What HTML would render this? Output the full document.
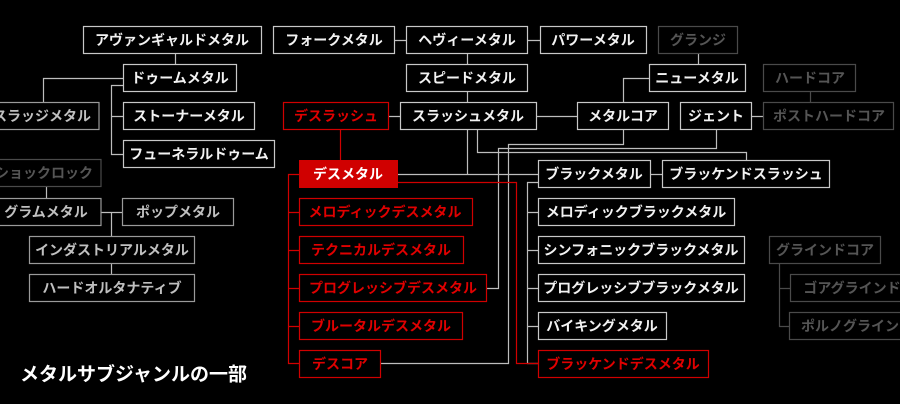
<!DOCTYPE html>
<html><head><meta charset="utf-8"><style>
html,body{margin:0;padding:0;background:#000;}
svg{display:block;}
text{font-family:"Liberation Sans","Noto Sans CJK JP",sans-serif;font-weight:bold;font-size:14px;text-anchor:middle;dominant-baseline:central;}
.w rect{fill:#000;stroke:#c8c8c8;stroke-width:1.2}
.w text{fill:#f2f2f2}
.l rect{fill:#000;stroke:#9a9a9a;stroke-width:1.2}
.l text{fill:#c0c0c0}
.g rect{fill:#000;stroke:#4a4a4a;stroke-width:1.2}
.g text{fill:#555}
.r rect{fill:#000;stroke:#d00000;stroke-width:1.2}
.r text{fill:#e00000}
.f rect{fill:#d00000;stroke:#d00000}
.f text{fill:#fff}
</style></head><body>
<svg width="900" height="404" viewBox="0 0 900 404" xmlns="http://www.w3.org/2000/svg">
<g fill="none" stroke-width="1.2">
<g stroke="#bdbdbd">
<path d="M175.5 53V64M123 78.5H43.5V102M123 85.5H111.5V154.5H123M111.5 116.5H123"/>
<path d="M395 40.5H406M528 40.5H540M467.5 53V64M467.5 91V102M389 116.5H400M537 116.5H577"/>
<path d="M467.5 129V174.5M398 174.5H538M477.5 129V152.5H746.5V160M623.5 129V144.5H508.5V363.5H380M716.5 129V148.5H498.5V288.5H487"/>
<path d="M538 182.5H527.5V363.5H538M527.5 212.5H538M527.5 250.5H538M527.5 288.5H538M527.5 326.5H538M651 174.5H662"/>
<path d="M698.5 53V64M649 78.5H623.5V102M752 116.5H763"/>
<path d="M101 212.5H122M111.5 212.5V236M111.5 263V274M46.5 186V198"/>
</g>
<g stroke="#4a4a4a"><path d="M810.5 91V102M779.5 263V326.5H790M779.5 288.5H790"/></g>
<g stroke="#d00000"><path d="M340.5 129V160M398 182.5H516.5V363.5H538M299 174.5H288.5V363.5H299M288.5 212.5H299M288.5 250.5H299M288.5 288.5H299M288.5 326.5H299"/></g>
</g>
<g class="w">
<rect x="83.5" y="26.5" width="178" height="27"/><text x="172" y="40">アヴァンギャルドメタル</text>
<rect x="273.5" y="26.5" width="121" height="27"/><text x="334" y="40">フォークメタル</text>
<rect x="406.5" y="26.5" width="121" height="27"/><text x="467" y="40">ヘヴィーメタル</text>
<rect x="540.5" y="26.5" width="106" height="27"/><text x="593" y="40">パワーメタル</text>
<rect x="123.5" y="64.5" width="113" height="27"/><text x="180" y="78">ドゥームメタル</text>
<rect x="406.5" y="64.5" width="121" height="27"/><text x="467" y="78">スピードメタル</text>
<rect x="649.5" y="64.5" width="96" height="27"/><text x="697" y="78">ニューメタル</text>
<rect x="123.5" y="102.5" width="131" height="27"/><text x="189" y="116">ストーナーメタル</text>
<rect x="400.5" y="102.5" width="136" height="27"/><text x="468" y="116">スラッシュメタル</text>
<rect x="577.5" y="102.5" width="91" height="27"/><text x="623" y="116">メタルコア</text>
<rect x="680.5" y="102.5" width="71" height="27"/><text x="716" y="116">ジェント</text>
<rect x="123.5" y="140.5" width="151" height="27"/><text x="199" y="154">フューネラルドゥーム</text>
<rect x="538.5" y="160.5" width="112" height="27"/><text x="594" y="174">ブラックメタル</text>
<rect x="662.5" y="160.5" width="167" height="27"/><text x="746" y="174">ブラッケンドスラッシュ</text>
<rect x="538.5" y="198.5" width="196" height="27"/><text x="636" y="212">メロディックブラックメタル</text>
<rect x="538.5" y="236.5" width="206" height="27"/><text x="641" y="250">シンフォニックブラックメタル</text>
<rect x="538.5" y="274.5" width="206" height="27"/><text x="641" y="288">プログレッシブブラックメタル</text>
<rect x="538.5" y="312.5" width="128" height="27"/><text x="602" y="326">バイキングメタル</text>
</g>
<g class="l">
<rect x="-10" y="102.5" width="109" height="27"/><text x="42" y="116">スラッジメタル</text>
<rect x="-10" y="198.5" width="111" height="27"/><text x="46" y="212">グラムメタル</text>
<rect x="122.5" y="198.5" width="111" height="27"/><text x="178" y="212">ポップメタル</text>
<rect x="29.5" y="236.5" width="165" height="27"/><text x="112" y="250">インダストリアルメタル</text>
<rect x="29.5" y="274.5" width="165" height="27"/><text x="112" y="288">ハードオルタナティブ</text>
</g>
<g class="g">
<rect x="658.5" y="26.5" width="79" height="27"/><text x="698" y="40">グランジ</text>
<rect x="763.5" y="64.5" width="92" height="27"/><text x="810" y="78">ハードコア</text>
<rect x="763.5" y="102.5" width="130" height="27"/><text x="829" y="116">ポストハードコア</text>
<rect x="-10" y="159.5" width="111" height="27"/><text x="44" y="173">ショックロック</text>
<rect x="769.5" y="236.5" width="111" height="27"/><text x="825" y="250">グラインドコア</text>
<rect x="790.5" y="274.5" width="120" height="27"/><text x="852" y="288">ゴアグラインド</text>
<rect x="789.5" y="312.5" width="125" height="27"/><text x="857" y="326">ポルノグラインド</text>
</g>
<g class="r">
<rect x="283.5" y="102.5" width="105" height="27"/><text x="336" y="116">デスラッシュ</text>
<rect x="299.5" y="198.5" width="173" height="27"/><text x="385" y="212">メロディックデスメタル</text>
<rect x="299.5" y="236.5" width="164" height="27"/><text x="381" y="250">テクニカルデスメタル</text>
<rect x="299.5" y="274.5" width="187" height="27"/><text x="393" y="288">プログレッシブデスメタル</text>
<rect x="299.5" y="312.5" width="163" height="27"/><text x="381" y="326">ブルータルデスメタル</text>
<rect x="299.5" y="350.5" width="81" height="27"/><text x="340" y="364">デスコア</text>
<rect x="538.5" y="350.5" width="170" height="27"/><text x="623" y="364">ブラッケンドデスメタル</text>
</g>
<g class="f">
<rect x="299.5" y="160.5" width="98" height="27"/><text x="348" y="174">デスメタル</text>
</g>
<text x="20" y="375" style="font-size:19px;text-anchor:start;fill:#fff">メタルサブジャンルの一部</text>
</svg>
</body></html>
